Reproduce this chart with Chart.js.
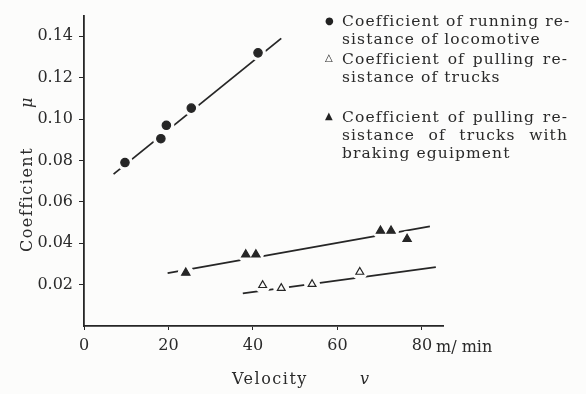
<!DOCTYPE html>
<html>
<head>
<meta charset="utf-8">
<script src="https://cdn.jsdelivr.net/npm/chart.js@4/dist/chart.umd.min.js"></script>
<style>
  body { margin: 0; background: #fcfcfb; }
  #wrap { position: relative; width: 586px; height: 394px; }
  .txt { position: absolute; font-family: 'DejaVu Serif', serif; color: #2a2a2a; font-size: 15px; white-space: nowrap; }
  .leg { position: absolute; left: 342px; font-family: 'DejaVu Serif', serif; color: #2a2a2a; font-size: 15.5px; line-height: 18px; letter-spacing: 1.1px; white-space: nowrap; }
  .full { width: 226px; text-align: justify; text-align-last: justify; letter-spacing: 1.1px; }
  .mk { position: absolute; left: 325px; font-size: 10px; color: #222; font-family: 'DejaVu Sans', sans-serif; }
</style>
</head>
<body>
<div id="wrap">
  <canvas id="chart" width="586" height="394"></canvas>
  <div class="txt" style="left:17px; transform: rotate(-90deg); transform-origin: 0 0; top:252px; letter-spacing:1.5px; font-size:16px;">Coefficient</div>
  <div class="txt" style="left:17px; top:108px; transform: rotate(-90deg); transform-origin: 0 0; font-style: italic; font-size:16px;">μ</div>
  <div class="txt" style="left:232px; top:369px; letter-spacing:1.5px; font-size:16px;">Velocity</div>
  <div class="txt" style="left:360px; top:369px; font-style: italic; font-size:16px;">v</div>
  <div class="txt" style="left:436px; top:337px; font-size:16px;">m/ min</div>

  <div class="mk" style="top:15px;">●</div>
  <div class="leg full" style="top:12px;">Coefficient of running re-</div>
  <div class="leg" style="top:30px;">sistance of locomotive</div>
  <div class="mk" style="top:52px;">△</div>
  <div class="leg full" style="top:50px;">Coefficient of pulling re-</div>
  <div class="leg" style="top:68px;">sistance of trucks</div>
  <div class="mk" style="top:110px;">▲</div>
  <div class="leg full" style="top:108px;">Coefficient of pulling re-</div>
  <div class="leg full" style="top:126px;">sistance of trucks with</div>
  <div class="leg" style="top:144px;">braking eguipment</div>
</div>
<script>
// measured points, velocity m/min vs coefficient
const locoV = [9.7, 18.2, 19.5, 25.4, 41.2];
const locoMu = [0.079, 0.0905, 0.097, 0.1053, 0.132];
const truckV = [42.3, 46.7, 54.0, 65.3];
const truckMu = [0.0197, 0.0183, 0.0202, 0.0261];
const brakeV = [24.1, 38.3, 40.7, 70.2, 72.7, 76.5];
const brakeMu = [0.0257, 0.0345, 0.0345, 0.046, 0.046, 0.042];

// fitted lines (end points)
const locoFitV = [7.0, 46.7];
const locoFitMu = [0.0734, 0.139];
const truckFitV = [37.6, 83.3];
const truckFitMu = [0.0158, 0.0285];
const brakeFitV = [19.8, 81.9];
const brakeFitMu = [0.0255, 0.0481];

const xTicks = [0, 20, 40, 60, 80];
const yTicks = [0.02, 0.04, 0.06, 0.08, 0.10, 0.12, 0.14];

const ink = '#262626';
const paper = '#fcfcfb';

function pts(xs, ys) {
  return xs.map(function (x, i) { return { x: x, y: ys[i] }; });
}

function fitLine(xs, ys) {
  return { type: 'line', data: pts(xs, ys), borderColor: ink, borderWidth: 1.8, pointRadius: 0, showLine: true, order: 3 };
}

// white blobs that cut the fitted lines round each marker
function halo(xs, ys, style, r) {
  return { type: 'scatter', data: pts(xs, ys), pointStyle: style, pointRadius: r, backgroundColor: paper, borderColor: paper, borderWidth: 2, order: 2 };
}

function marks(xs, ys, style, r, fill) {
  return { type: 'scatter', data: pts(xs, ys), pointStyle: style, pointRadius: r, backgroundColor: fill, borderColor: ink, borderWidth: 1.2, order: 1 };
}

const chart = new Chart(document.getElementById('chart'), {
  type: 'scatter',
  data: {
    datasets: [
      fitLine(locoFitV, locoFitMu),
      fitLine(truckFitV, truckFitMu),
      fitLine(brakeFitV, brakeFitMu),
      halo(locoV, locoMu, 'circle', 7),
      halo(truckV, truckMu, 'circle', 7),
      halo(brakeV, brakeMu, 'circle', 7),
      marks(locoV, locoMu, 'circle', 4.2, ink),
      marks(truckV, truckMu, 'triangle', 4.5, paper),
      marks(brakeV, brakeMu, 'triangle', 4.8, ink)
    ]
  },
  options: {
    responsive: false,
    animation: false,
    layout: { padding: { left: 0, right: 143, top: 8, bottom: 0 } },
    plugins: { legend: { display: false }, tooltip: { enabled: false } },
    scales: {
      x: {
        type: 'linear',
        min: 0,
        max: 85,
        afterBuildTicks: function (axis) { axis.ticks = xTicks.map(function (v) { return { value: v }; }); },
        afterFit: function (axis) { axis.height = 68; },
        grid: { display: true, drawOnChartArea: false, tickLength: 4, color: ink, lineWidth: 1 },
        border: { color: ink, width: 1.8 },
        ticks: { color: '#2a2a2a', padding: 6, font: { family: 'DejaVu Serif', size: 16 }, maxRotation: 0,
          callback: function (v) { return String(v); } }
      },
      y: {
        type: 'linear',
        min: 0,
        max: 0.15,
        afterBuildTicks: function (axis) { axis.ticks = yTicks.map(function (v) { return { value: v }; }); },
        afterFit: function (axis) { axis.width = 84; },
        grid: { display: true, drawOnChartArea: false, tickLength: 5, color: ink, lineWidth: 1 },
        border: { color: ink, width: 1.8 },
        ticks: { color: '#2a2a2a', padding: 6, font: { family: 'DejaVu Serif', size: 16 },
          callback: function (v) { return v.toFixed(2); } }
      }
    }
  }
});
</script>
</body>
</html>
